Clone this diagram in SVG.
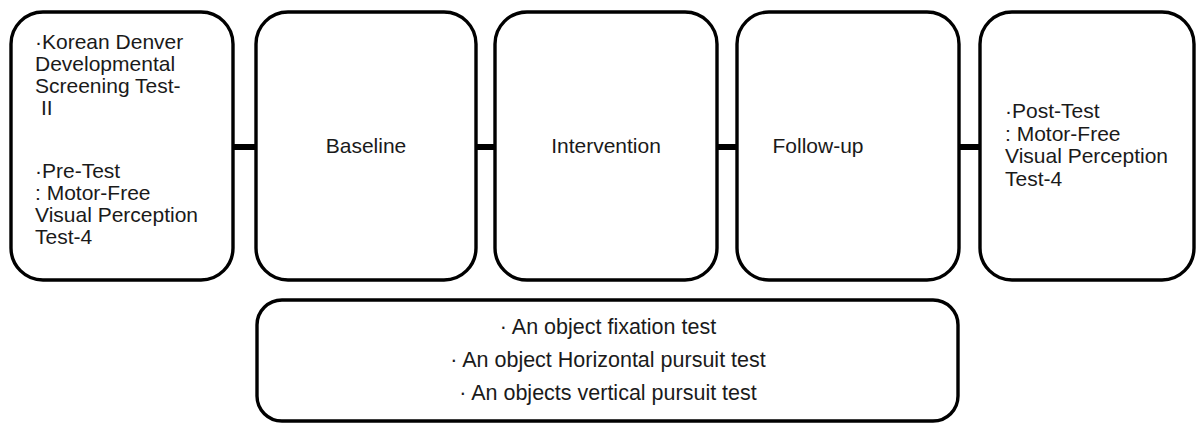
<svg xmlns="http://www.w3.org/2000/svg" width="1197" height="423" viewBox="0 0 1197 423">
<style>
.box{fill:#fff;stroke:#000;stroke-width:3.4}
.conn{stroke:#000;stroke-width:6;fill:none}
text{font-family:"Liberation Sans",Arial,sans-serif;font-size:21px;fill:#1a1a1a}
.c{text-anchor:middle}
.b{font-size:21.5px}
</style>
<rect width="1197" height="423" fill="#fff"/>
<g id="connectors">
<line class="conn" x1="233" y1="147" x2="256" y2="147"/>
<line class="conn" x1="476" y1="147" x2="495" y2="147"/>
<line class="conn" x1="717" y1="147" x2="737" y2="147"/>
<line class="conn" x1="959" y1="147" x2="980" y2="147"/>
</g>
<g id="pretest">
<rect class="box" x="11" y="12" width="222" height="268" rx="32"/>
<text x="35" y="49">·Korean Denver</text>
<text x="35" y="71">Developmental</text>
<text x="35" y="93">Screening Test-</text>
<text x="41" y="115">II</text>
<text x="35" y="178">·Pre-Test</text>
<text x="35" y="200">: Motor-Free</text>
<text x="35" y="222">Visual Perception</text>
<text x="35" y="244">Test-4</text>
</g>
<g id="baseline">
<rect class="box" x="256" y="12" width="220" height="268" rx="32"/>
<text class="c" x="366" y="153">Baseline</text>
</g>
<g id="intervention">
<rect class="box" x="495" y="12" width="222" height="268" rx="32"/>
<text class="c" x="606" y="153">Intervention</text>
</g>
<g id="followup">
<rect class="box" x="737" y="12" width="222" height="268" rx="32"/>
<text class="c" x="818" y="153">Follow-up</text>
</g>
<g id="posttest">
<rect class="box" x="980" y="12" width="214" height="268" rx="32"/>
<text x="1005" y="118">·Post-Test</text>
<text x="1005" y="140.5">: Motor-Free</text>
<text x="1005" y="163">Visual Perception</text>
<text x="1005" y="185.5">Test-4</text>
</g>
<g id="tests">
<rect class="box" x="257" y="300" width="701" height="121" rx="25"/>
<text class="c b" x="608" y="334">· An object fixation test</text>
<text class="c b" x="608" y="367">· An object Horizontal pursuit test</text>
<text class="c b" x="608" y="400">· An objects vertical pursuit test</text>
</g>
</svg>
